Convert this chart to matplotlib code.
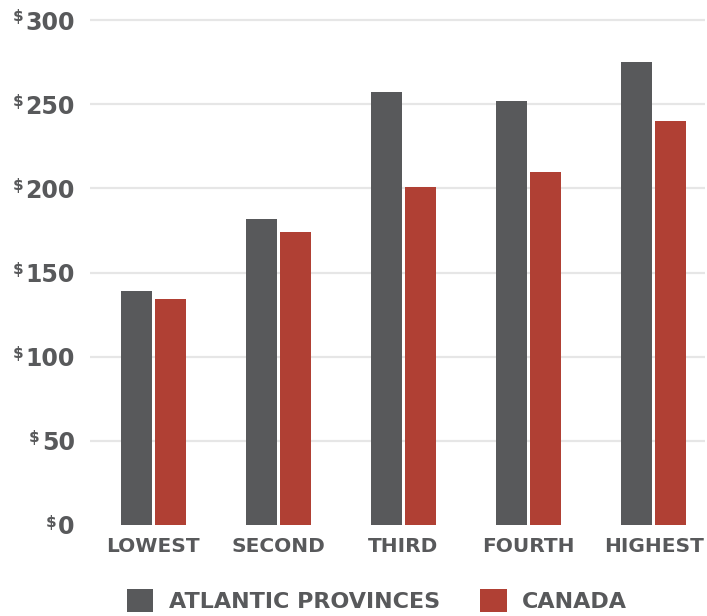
import matplotlib
matplotlib.use("Agg")
import matplotlib.pyplot as plt
from matplotlib.patches import Patch
import numpy as np

categories = ["LOWEST", "SECOND", "THIRD", "FOURTH", "HIGHEST"]
atlantic = [139, 182, 257, 252, 275]
canada = [134, 174, 201, 210, 240]
yticks = [0, 50, 100, 150, 200, 250, 300]
series_names = ["ATLANTIC PROVINCES", "CANADA"]

GRAY = "#58595b"
RED = "#b04034"
TXT = "#58595b"
FONT = "DejaVu Sans"
WEIGHT = "bold"

W, H = 707, 616
fig = plt.figure(figsize=(W / 100, H / 100), dpi=100)
ymax = 302
ppu = (525 - 20) / 300.0
top_px = 20 - (ymax - 300) * ppu
ax = fig.add_axes([90 / W, 91 / H, (705 - 90) / W, (525 - top_px) / H])

x = np.arange(len(categories))
bw = 0.248
off = 0.136
ax.bar(x - off, atlantic, bw, color=GRAY, zorder=3)
ax.bar(x + off, canada, bw, color=RED, zorder=3)

ax.set_xlim(-0.505, 4.41)
ax.set_ylim(0, ymax)
ax.set_yticks(yticks)
ax.set_yticklabels([str(v) for v in yticks], fontsize=17, fontweight=WEIGHT,
                   color=TXT, family=FONT)
ax.set_xticks(x)
ax.set_xticklabels(categories, fontsize=14.5, fontweight=WEIGHT, color=TXT, family=FONT)
ax.tick_params(axis="both", length=0)
ax.tick_params(axis="y", pad=11)
ax.tick_params(axis="x", pad=9)
ax.yaxis.grid(True, color="#e6e6e6", linewidth=1.6, zorder=0)
ax.set_axisbelow(True)
ax.get_ygridlines()[0].set_visible(False)
for s in ax.spines.values():
    s.set_visible(False)

# superscript dollar signs
fig.canvas.draw()
r = fig.canvas.get_renderer()
for lab in ax.get_yticklabels():
    bb = lab.get_window_extent(r)
    fig.text((bb.x0 - 2) / W, (bb.y1 + 1) / H, "$", fontsize=11, fontweight=WEIGHT,
             color=TXT, family=FONT, ha="right", va="top")

handles = [Patch(facecolor=GRAY), Patch(facecolor=RED)]
fig.legend(handles, series_names, loc="lower center", bbox_to_anchor=(0.533, -0.026),
           ncol=2, frameon=False, handlelength=1.2, handleheight=1.2,
           handletextpad=0.7, columnspacing=1.8,
           prop={"family": FONT, "weight": WEIGHT, "size": 16},
           labelcolor=TXT)

fig.savefig("out.png", dpi=100)
